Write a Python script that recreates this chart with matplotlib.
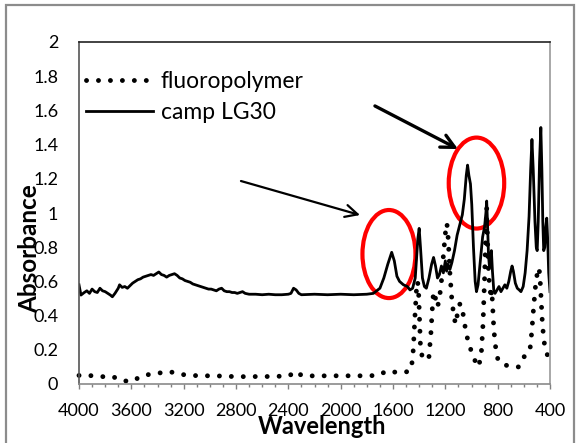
import matplotlib
matplotlib.use("Agg")
import matplotlib.pyplot as plt
from matplotlib.patches import Ellipse, Rectangle
from matplotlib.ticker import MultipleLocator, FixedLocator

plt.rcParams['font.family'] = ['Lato', 'DejaVu Sans']

# FTIR spectra: wavenumber (cm-1) vs absorbance
camp_wn = [4000, 3985, 3960, 3940, 3920, 3900, 3880, 3860, 3840, 3820, 3800, 3780,
           3760, 3745, 3725, 3700, 3690, 3670, 3650, 3630, 3610, 3590, 3570, 3550,
           3530, 3510, 3490, 3470, 3450, 3430, 3410, 3390, 3370, 3350, 3330, 3310,
           3290, 3270, 3250, 3230, 3210, 3190, 3170, 3150, 3130, 3110, 3090, 3070,
           3050, 3030, 3010, 2990, 2970, 2950, 2930, 2910, 2890, 2870, 2850, 2830,
           2810, 2790, 2770, 2750, 2730, 2700, 2650, 2600, 2550, 2500, 2450, 2400,
           2380, 2360, 2340, 2320, 2300, 2200, 2100, 2000, 1900, 1800, 1750, 1700,
           1670, 1640, 1610, 1590, 1570, 1550, 1520, 1490, 1470, 1450, 1430, 1410,
           1400, 1390, 1375, 1360, 1345, 1325, 1305, 1290, 1275, 1260, 1245, 1230,
           1215, 1200, 1190, 1180, 1165, 1150, 1130, 1110, 1090, 1070, 1055, 1040,
           1030, 1020, 1008, 998, 985, 972, 962, 950, 935, 925, 915, 900,
           890, 884, 878, 870, 862, 855, 848, 840, 830, 820, 805, 790,
           775, 760, 745, 730, 715, 700, 690, 680, 665, 650, 635, 622,
           605, 590, 575, 560, 548, 538, 528, 515, 505, 498, 490, 480,
           470, 462, 455, 448, 440, 432, 425, 418, 410, 400]
camp_abs = [0.58, 0.52, 0.535, 0.545, 0.53, 0.555, 0.54, 0.535, 0.56, 0.545, 0.54, 0.53,
            0.52, 0.51, 0.53, 0.56, 0.58, 0.565, 0.57, 0.56, 0.575, 0.59, 0.60, 0.61,
            0.615, 0.625, 0.63, 0.635, 0.64, 0.635, 0.645, 0.655, 0.64, 0.635, 0.625, 0.635,
            0.64, 0.645, 0.635, 0.62, 0.615, 0.605, 0.60, 0.595, 0.585, 0.58, 0.575, 0.57,
            0.565, 0.56, 0.555, 0.555, 0.55, 0.545, 0.555, 0.56, 0.545, 0.54, 0.54, 0.535,
            0.535, 0.53, 0.535, 0.54, 0.53, 0.525, 0.525, 0.522, 0.525, 0.522, 0.522, 0.525,
            0.53, 0.56, 0.55, 0.53, 0.522, 0.525, 0.522, 0.525, 0.522, 0.525, 0.53, 0.56,
            0.62, 0.70, 0.77, 0.72, 0.63, 0.60, 0.58, 0.57, 0.55, 0.56, 0.62, 0.85,
            0.91, 0.80, 0.62, 0.57, 0.56, 0.62, 0.70, 0.74, 0.69, 0.62, 0.64, 0.69,
            0.65, 0.72, 0.66, 0.70, 0.67, 0.71, 0.78, 0.87, 0.93, 0.99, 1.08, 1.22,
            1.28, 1.22, 1.17, 1.05, 0.80, 0.60, 0.54, 0.58, 0.70, 0.78, 0.86, 0.92,
            1.00, 1.07, 0.95, 0.75, 0.68, 0.74, 0.78, 0.66, 0.55, 0.53, 0.55, 0.57,
            0.54, 0.56, 0.58, 0.56, 0.60, 0.66, 0.69, 0.66, 0.59, 0.56, 0.55, 0.54,
            0.57, 0.65, 0.78, 0.98, 1.25, 1.43, 1.25, 0.95, 0.80, 0.78, 0.95, 1.30,
            1.50, 1.25, 0.95, 0.78, 0.80, 0.92, 0.97, 0.85, 0.65, 0.54]

fluoro_wn = [4000, 3960, 3900, 3820, 3750, 3700, 3670, 3610, 3580, 3540, 3460, 3380,
             3305, 3230, 3130, 3050, 2970, 2900, 2800, 2700, 2600, 2500, 2400, 2336,
             2300, 2200, 2100, 2000, 1900, 1800, 1720, 1680, 1633, 1590, 1544, 1500,
             1460, 1445, 1432, 1420, 1412, 1405, 1398, 1390, 1375, 1350, 1325, 1310,
             1295, 1288, 1275, 1260, 1245, 1230, 1215, 1200, 1188, 1178, 1165, 1150,
             1135, 1122, 1105, 1088, 1070, 1055, 1040, 1024, 1000, 985, 965, 953,
             940, 925, 912, 900, 892, 884, 876, 868, 860, 852, 845, 838,
             830, 820, 805, 790, 770, 740, 700, 660, 640, 615, 597, 570,
             553, 540, 525, 510, 495, 484, 476, 468, 460, 450, 440, 425,
             410, 400]
fluoro_abs = [0.05, 0.053, 0.048, 0.043, 0.045, 0.03, 0.02, 0.015, 0.02, 0.04, 0.057, 0.065,
              0.072, 0.057, 0.049, 0.05, 0.045, 0.048, 0.042, 0.044, 0.043, 0.045, 0.046, 0.074,
              0.05, 0.047, 0.048, 0.048, 0.048, 0.048, 0.05, 0.064, 0.078, 0.07, 0.066, 0.07,
              0.085, 0.20, 0.40, 0.56, 0.60, 0.55, 0.40, 0.22, 0.15, 0.14, 0.16, 0.30,
              0.50, 0.54, 0.50, 0.45, 0.50, 0.60, 0.75, 0.88, 0.94, 0.85, 0.65, 0.49,
              0.40, 0.35, 0.42, 0.47, 0.44, 0.36, 0.30, 0.24, 0.19, 0.16, 0.12, 0.10,
              0.12, 0.18, 0.35, 0.62, 0.85, 1.03, 0.80, 0.62, 0.58, 0.50, 0.55, 0.45,
              0.33, 0.24, 0.16, 0.13, 0.12, 0.11, 0.105, 0.10, 0.10, 0.13, 0.16, 0.18,
              0.20, 0.30, 0.45, 0.58, 0.66, 0.68, 0.62, 0.50, 0.38, 0.28, 0.22, 0.18,
              0.15, 0.125]

series_names = ["fluoropolymer", "camp LG30"]
x_ticks = [4000, 3600, 3200, 2800, 2400, 2000, 1600, 1200, 800, 400]
y_ticks = [0, 0.2, 0.4, 0.6, 0.8, 1, 1.2, 1.4, 1.6, 1.8, 2]
y_tick_labels = ["0", "0.2", "0.4", "0.6", "0.8", "1", "1.2", "1.4", "1.6", "1.8", "2"]

fig = plt.figure(figsize=(5.76, 4.43), dpi=100)
ax = fig.add_axes([79 / 576, 1 - 384 / 443, 471 / 576, 342 / 443])

ax.plot(fluoro_wn, fluoro_abs, color='black', lw=3.5, linestyle=(0, (0.01, 2.45)),
        dash_capstyle='round', label=series_names[0], clip_on=False)
ax.plot(camp_wn, camp_abs, color='black', lw=2.0, solid_joinstyle='round',
        label=series_names[1])

ax.set_xlim(4000, 400)
ax.set_ylim(0, 2)
ax.xaxis.set_major_locator(FixedLocator(x_ticks))
ax.xaxis.set_minor_locator(MultipleLocator(100))
ax.set_xticklabels([str(t) for t in x_ticks])
ax.set_yticks(y_ticks)
ax.set_yticklabels(y_tick_labels)
ax.tick_params(axis='x', which='major', direction='out', length=3.6, width=1,
               color='#808080', labelsize=13, pad=10)
ax.tick_params(axis='x', which='minor', direction='out', length=2.2, width=1,
               color='#808080')
ax.tick_params(axis='y', length=0, labelsize=13, pad=15)

ax.spines['top'].set_color('#222222')
ax.spines['left'].set_color('#555555')
ax.spines['right'].set_color('#9a9a9a')
ax.spines['bottom'].set_color('#8a8a8a')
for s in ax.spines.values():
    s.set_linewidth(1.2)

leg = ax.legend(loc='upper left', bbox_to_anchor=(-0.014, 0.955), frameon=False,
                fontsize=16.5, handlelength=2.9, handletextpad=0.35,
                labelspacing=0.45, borderaxespad=0.2)

# Callout arrows and highlight rings
ax.annotate("", xy=(1852, 0.988), xytext=(2762, 1.187),
            arrowprops=dict(arrowstyle='->', color='black', lw=1.6,
                            mutation_scale=22, shrinkA=0, shrinkB=0))
ax.annotate("", xy=(1103, 1.374), xytext=(1738, 1.626),
            arrowprops=dict(arrowstyle='->', color='black', lw=2.4,
                            mutation_scale=24, shrinkA=0, shrinkB=0))
ax.add_patch(Ellipse((1631, 0.76), width=405, height=0.515, fill=False,
                     edgecolor='#ff0000', lw=3.0))
ax.add_patch(Ellipse((962, 1.175), width=424, height=0.532, fill=False,
                     edgecolor='#ff0000', lw=3.0))

fig.text(322 / 576, 1 - 427 / 443, "Wavelength", ha='center', va='center',
         fontsize=17, fontweight='bold')
fig.text(30 / 576, 1 - 249 / 443, "Absorbance", ha='center', va='center',
         rotation=90, fontsize=17.5, fontweight='bold')

# Chart area border
fig.patches.append(Rectangle((6 / 576, -0.1), (574 - 6) / 576, 1.1 - 5 / 443,
                             transform=fig.transFigure, fill=False,
                             edgecolor='#8c8c8c', lw=1.6, clip_on=False))

fig.savefig("out.png", dpi=100)
